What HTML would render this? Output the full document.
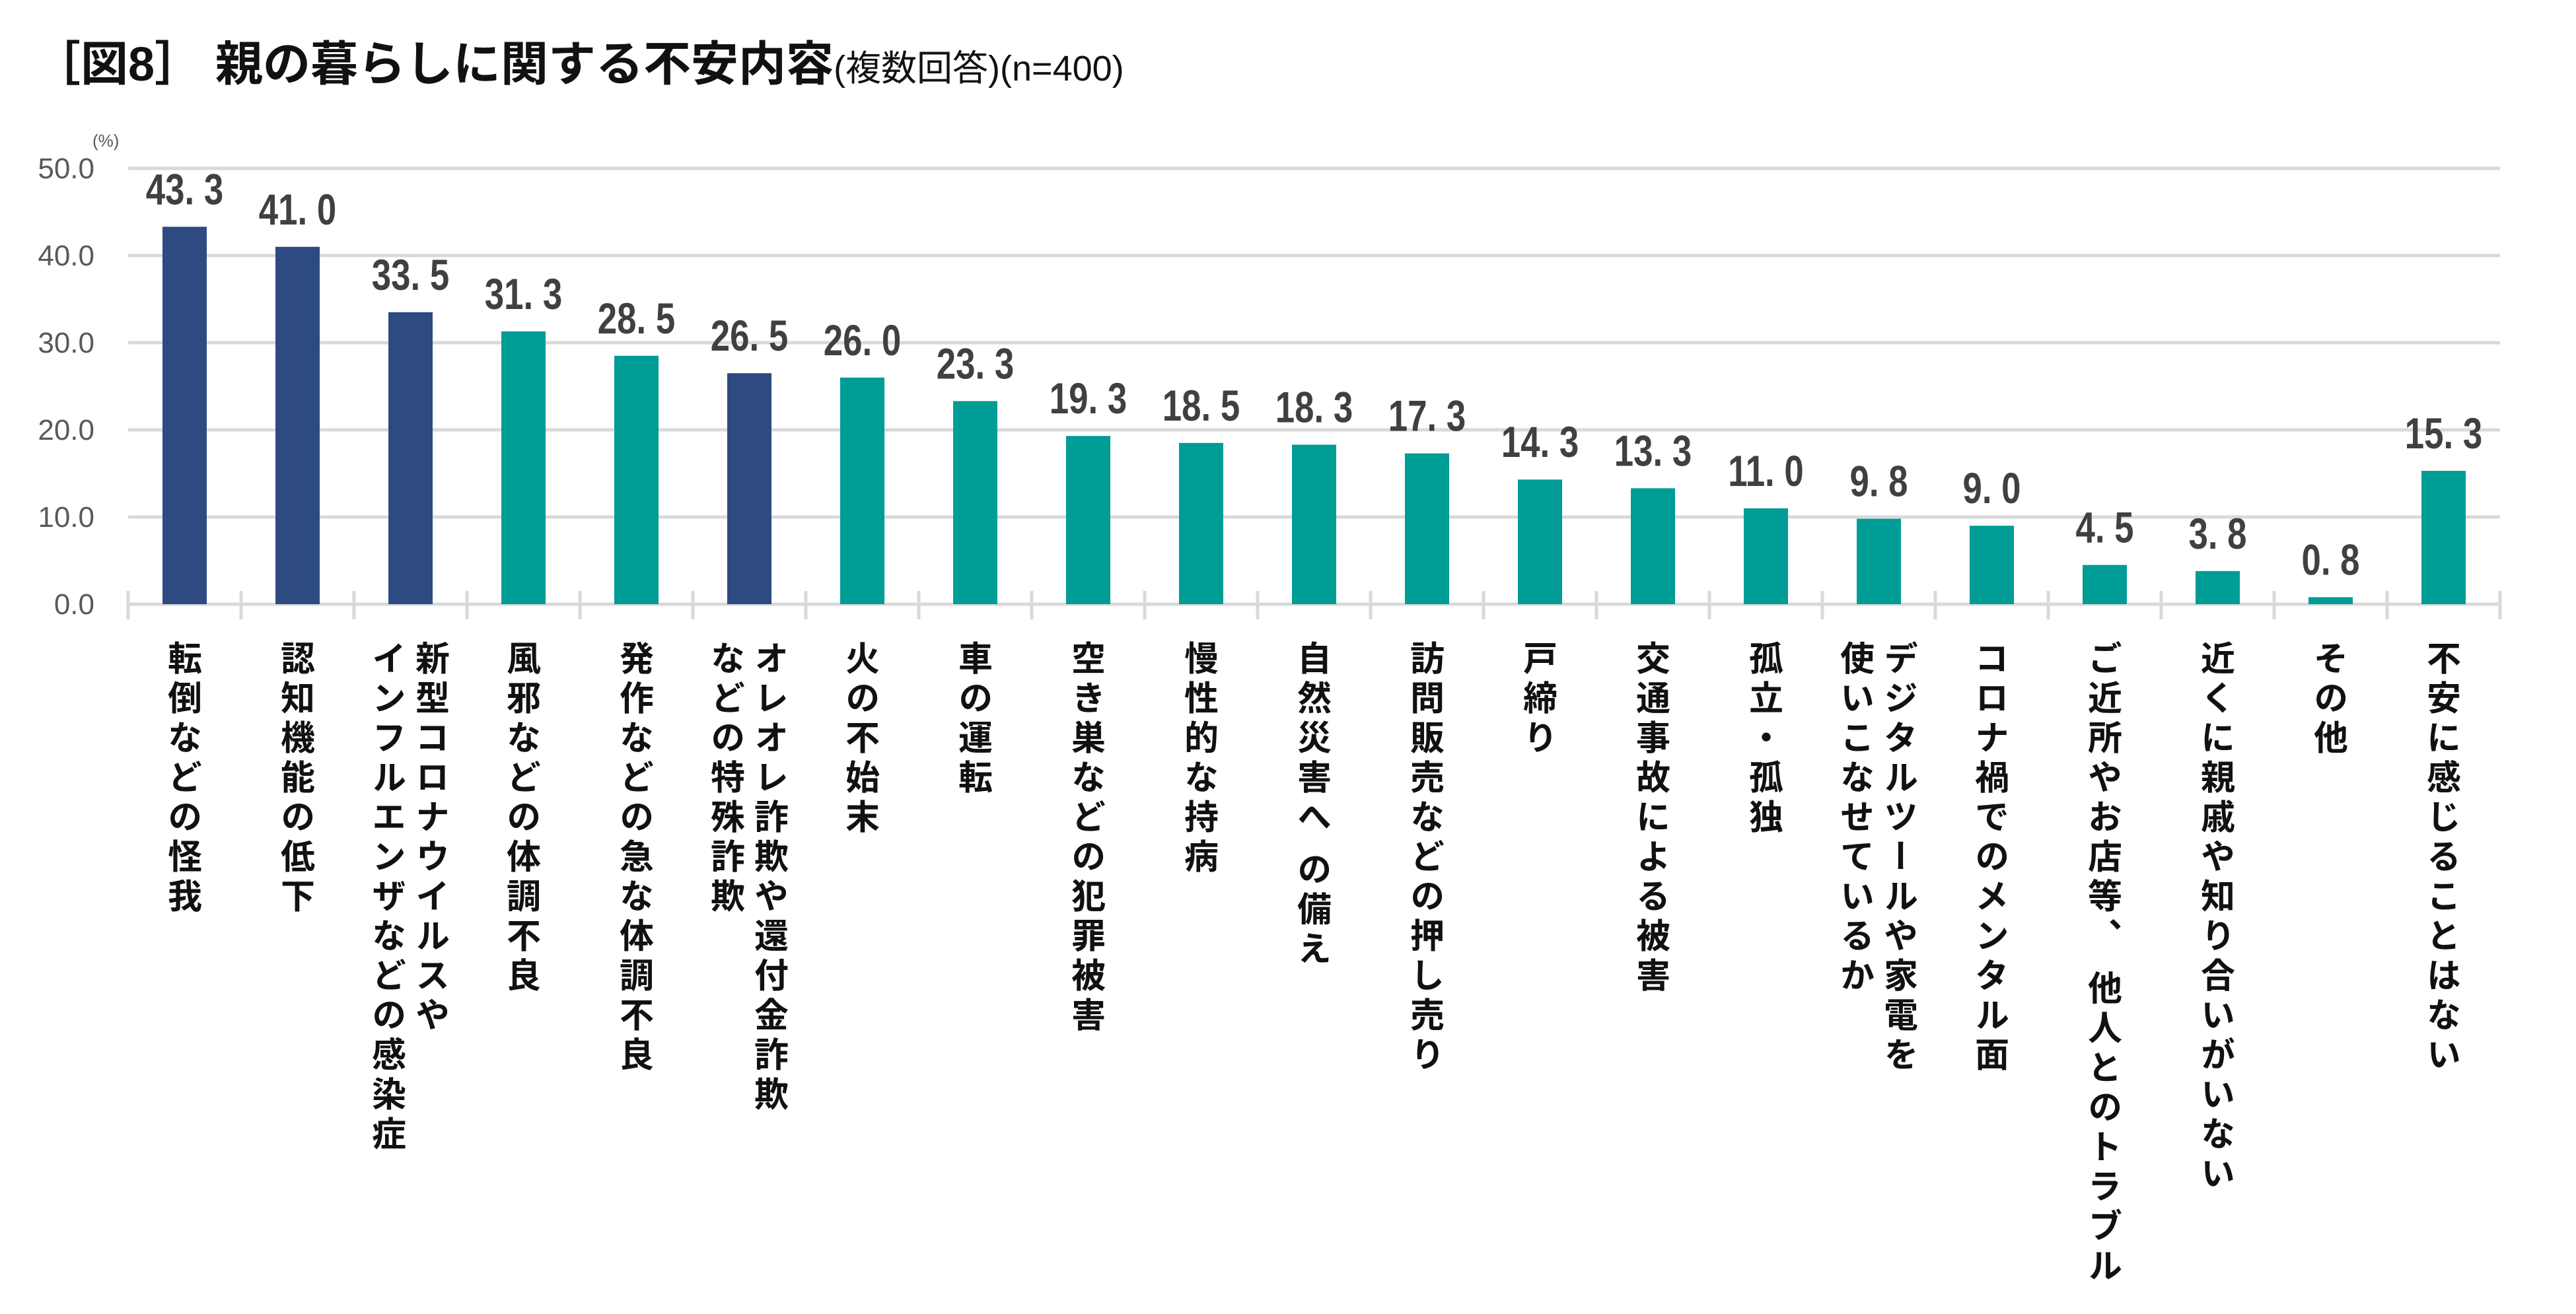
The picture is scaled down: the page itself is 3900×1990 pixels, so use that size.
<!DOCTYPE html>
<html><head><meta charset="utf-8">
<style>
html,body{margin:0;padding:0;background:#fff;}
#root{position:relative;width:3900px;height:1990px;overflow:hidden;background:#fff;font-family:"Liberation Sans","Noto Sans CJK JP",sans-serif;}
.title{position:absolute;left:50px;top:38px;font-size:72px;font-weight:bold;color:#111;white-space:nowrap;font-family:"Liberation Sans","Noto Sans CJK JP",sans-serif;}
.title small{font-size:54px;font-weight:normal;}
.cat{position:absolute;top:970px;writing-mode:vertical-rl;font-size:52px;letter-spacing:8px;line-height:66px;font-weight:bold;color:#111;font-family:"Noto Sans CJK JP",sans-serif;white-space:nowrap;}
</style></head>
<body>
<div id="root">
  <div class="title">［図8］ 親の暮らしに関する不安内容<small>(複数回答)(n=400)</small></div>
  <svg id="chart" width="3900" height="1990" style="position:absolute;left:0;top:0"></svg>
</div>
<script>
const categories = ["転倒などの怪我","認知機能の低下","新型コロナウイルスや\nインフルエンザなどの感染症","風邪などの体調不良","発作などの急な体調不良","オレオレ詐欺や還付金詐欺\nなどの特殊詐欺","火の不始末","車の運転","空き巣などの犯罪被害","慢性的な持病","自然災害へ の備え","訪問販売などの押し売り","戸締り","交通事故による被害","孤立・孤独","デジタルツールや家電を\n使いこなせているか","コロナ禍でのメンタル面","ご近所やお店等、 他人とのトラブル","近くに親戚や知り合いがいない","その他","不安に感じることはない"];
const values = [43.3,41.0,33.5,31.3,28.5,26.5,26.0,23.3,19.3,18.5,18.3,17.3,14.3,13.3,11.0,9.8,9.0,4.5,3.8,0.8,15.3];
const highlight = [1,1,1,0,0,1,0,0,0,0,0,0,0,0,0,0,0,0,0,0,0];
const yTicks = [0,10,20,30,40,50];

const NS="http://www.w3.org/2000/svg";
const svg=document.getElementById('chart');
const root=document.getElementById('root');
const X0=194, X1=3785, Y0=915, Y50=255;
const step=(X1-X0)/categories.length;
const y=v=>Y0-(v/50)*(Y0-Y50);
const xc=i=>X0+step*(i+0.5);
function mk(tag,attrs){const e=document.createElementNS(NS,tag);for(const k in attrs)e.setAttribute(k,attrs[k]);svg.appendChild(e);return e;}

yTicks.forEach(t=>{
  const g=mk('line',{x1:X0,x2:X1,y1:y(t),y2:y(t),stroke:'#d9d9d9','stroke-width':5});
  
  
  const tx=mk('text',{x:143,y:y(t)+15,'text-anchor':'end','font-size':44,fill:'#595959','font-family':'Liberation Sans, sans-serif'});
  tx.textContent=t.toFixed(1);
  
  
});
const unit=mk('text',{x:140,y:222,'font-size':26,fill:'#595959','font-family':'Liberation Sans, sans-serif'});
unit.textContent='(%)';



for(let i=0;i<=categories.length;i++){
  const tk=mk('line',{x1:X0+step*i,x2:X0+step*i,y1:895,y2:938,stroke:'#d9d9d9','stroke-width':5});
  
  
}

values.forEach((v,i)=>{
  const w=67;
  const r=mk('rect',{x:xc(i)-w/2,y:y(v),width:w,height:Y0-y(v),fill:highlight[i]?'#2D4B80':'#009C96'});
  
  
  const s=v.toFixed(1).replace('.','. ');
  const t=mk('text',{x:0,y:0,'text-anchor':'middle','font-size':66,'font-weight':'bold',fill:'#404040','font-family':'Liberation Sans, sans-serif',transform:`translate(${xc(i)},${y(v)-34}) scale(0.8,1)`});
  t.textContent=s;
  
  

  const d=document.createElement('div');
  d.className='cat';
  d.innerHTML=categories[i].replace('\n','<br>');
  
  
  root.appendChild(d);
  const wd=d.getBoundingClientRect().width;
  d.style.left=(xc(i)-wd/2)+'px';
});
</script>
</body></html>
